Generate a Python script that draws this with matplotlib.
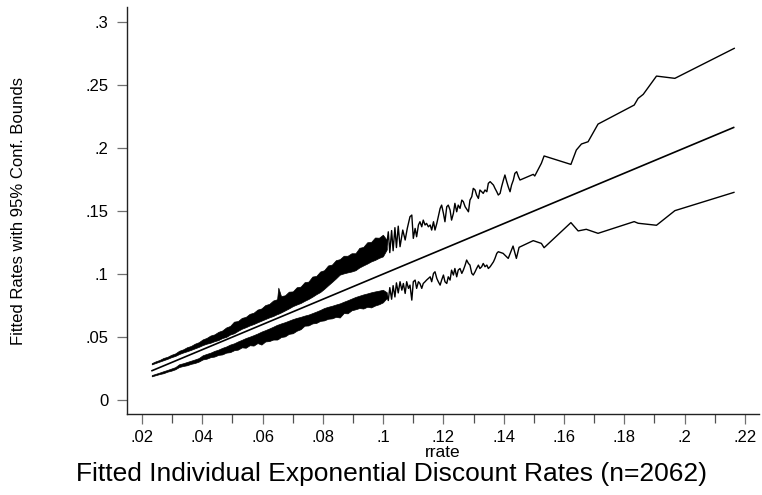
import numpy as np
import matplotlib.pyplot as plt

plt.rcParams['font.family'] = ['Liberation Sans', 'DejaVu Sans']

# fitted line (fitted rate = rrate)
mid_x = [0.0233, 0.2163]
mid_y = [0.0233, 0.2163]

# dense part of the bounds, read as upper / lower edge of the black band
band_x = [0.0232, 0.0245, 0.0258, 0.0271, 0.0284, 0.0297, 0.0310, 0.0323, 0.0336, 0.0349,
          0.0362, 0.0375, 0.0388, 0.0401, 0.0414, 0.0427, 0.0440, 0.0453, 0.0466, 0.0479,
          0.0492, 0.0505, 0.0518, 0.0531, 0.0544, 0.0557, 0.0570, 0.0583, 0.0596, 0.0609,
          0.0622, 0.0635, 0.0648, 0.0652, 0.0661, 0.0674, 0.0687, 0.0700, 0.0713, 0.0726,
          0.0739, 0.0752, 0.0765, 0.0778, 0.0791, 0.0804, 0.0817, 0.0830, 0.0843, 0.0856,
          0.0869, 0.0882, 0.0895, 0.0908, 0.0921, 0.0934, 0.0947, 0.0960, 0.0973, 0.0986,
          0.0999, 0.1012]
hi_top = [0.0293, 0.0307, 0.0318, 0.0334, 0.0343, 0.0359, 0.0370, 0.0391, 0.0402, 0.0419,
          0.0429, 0.0447, 0.0459, 0.0481, 0.0493, 0.0512, 0.0521, 0.0541, 0.0552, 0.0576,
          0.0588, 0.0622, 0.0627, 0.0652, 0.0660, 0.0684, 0.0693, 0.0718, 0.0727, 0.0754,
          0.0763, 0.0790, 0.0800, 0.0892, 0.0825, 0.0831, 0.0860, 0.0862, 0.0895, 0.0900,
          0.0935, 0.0940, 0.0980, 0.0985, 0.1020, 0.1030, 0.1068, 0.1075, 0.1110, 0.1118,
          0.1145, 0.1145, 0.1165, 0.1165, 0.1208, 0.1215, 0.1252, 0.1255, 0.1290, 0.1288,
          0.1312, 0.1270]
hi_bot = [0.0283, 0.0294, 0.0305, 0.0316, 0.0327, 0.0340, 0.0350, 0.0365, 0.0377, 0.0387,
          0.0398, 0.0410, 0.0422, 0.0436, 0.0447, 0.0455, 0.0467, 0.0476, 0.0492, 0.0501,
          0.0520, 0.0530, 0.0549, 0.0566, 0.0578, 0.0592, 0.0603, 0.0617, 0.0630, 0.0643,
          0.0656, 0.0667, 0.0682, 0.0685, 0.0695, 0.0711, 0.0727, 0.0745, 0.0758, 0.0770,
          0.0787, 0.0802, 0.0820, 0.0840, 0.0857, 0.0882, 0.0910, 0.0937, 0.0965, 0.0995,
          0.1005, 0.1013, 0.1020, 0.1030, 0.1052, 0.1068, 0.1083, 0.1100, 0.1112, 0.1128,
          0.1140, 0.1195]
lo_top = [0.0198, 0.0208, 0.0218, 0.0229, 0.0239, 0.0250, 0.0261, 0.0284, 0.0292, 0.0302,
          0.0312, 0.0322, 0.0333, 0.0355, 0.0366, 0.0376, 0.0390, 0.0400, 0.0414, 0.0425,
          0.0440, 0.0450, 0.0465, 0.0478, 0.0492, 0.0503, 0.0515, 0.0528, 0.0543, 0.0555,
          0.0568, 0.0582, 0.0597, 0.0600, 0.0608, 0.0618, 0.0630, 0.0642, 0.0652, 0.0660,
          0.0670, 0.0678, 0.0690, 0.0702, 0.0715, 0.0730, 0.0740, 0.0748, 0.0758, 0.0767,
          0.0780, 0.0792, 0.0805, 0.0818, 0.0828, 0.0838, 0.0846, 0.0855, 0.0862, 0.0868,
          0.0875, 0.0855]
lo_bot = [0.0188, 0.0197, 0.0206, 0.0213, 0.0225, 0.0233, 0.0244, 0.0262, 0.0270, 0.0276,
          0.0287, 0.0294, 0.0305, 0.0322, 0.0328, 0.0340, 0.0345, 0.0358, 0.0362, 0.0376,
          0.0380, 0.0395, 0.0400, 0.0418, 0.0415, 0.0435, 0.0432, 0.0452, 0.0440, 0.0465,
          0.0468, 0.0480, 0.0480, 0.0485, 0.0500, 0.0505, 0.0525, 0.0530, 0.0550, 0.0562,
          0.0590, 0.0592, 0.0608, 0.0612, 0.0628, 0.0632, 0.0645, 0.0648, 0.0660, 0.0655,
          0.0690, 0.0688, 0.0712, 0.0720, 0.0730, 0.0726, 0.0740, 0.0735, 0.0750, 0.0760,
          0.0775, 0.0810]

# sparse part of the upper bound
up_x = [0.1012, 0.1017, 0.1022, 0.1028, 0.1033, 0.1039, 0.1044, 0.1050,
        0.1056, 0.1065, 0.1073, 0.1080, 0.1089, 0.1095, 0.1100, 0.1106, 0.1111, 0.1117,
        0.1122, 0.1128, 0.1133, 0.1139, 0.1144, 0.1150, 0.1156, 0.1161, 0.1167, 0.1172,
        0.1178, 0.1189, 0.1194, 0.1200, 0.1205, 0.1211, 0.1216, 0.1222, 0.1227, 0.1233,
        0.1238, 0.1244, 0.1249, 0.1255, 0.1261, 0.1266, 0.1272, 0.1283, 0.1288, 0.1294,
        0.1299, 0.1305, 0.1310, 0.1316, 0.1321, 0.1327, 0.1332, 0.1338, 0.1344, 0.1349,
        0.1355, 0.1366, 0.1371, 0.1377, 0.1382, 0.1388, 0.1393, 0.1399, 0.1404, 0.1410,
        0.1415, 0.1421, 0.1426, 0.1432, 0.1437, 0.1443, 0.1449, 0.1454, 0.1498, 0.1503,
        0.1525, 0.1534, 0.1623, 0.1641, 0.1658, 0.1680, 0.1713, 0.1833, 0.1846, 0.1863,
        0.1907, 0.1968, 0.2165]
up_y = [0.1232, 0.1335, 0.1170, 0.1345, 0.1185, 0.1368, 0.1210, 0.1380,
        0.1217, 0.1349, 0.1270, 0.1362, 0.1455, 0.1468, 0.1283, 0.1362, 0.1296, 0.1389,
        0.1415, 0.1375, 0.1428, 0.1389, 0.1402, 0.1375, 0.1389, 0.1349, 0.1415, 0.1349,
        0.1402, 0.1521, 0.1547, 0.1481, 0.1415, 0.1534, 0.1547, 0.1508, 0.1428, 0.1481,
        0.1561, 0.1494, 0.1547, 0.1521, 0.1587, 0.1574, 0.1534, 0.1494, 0.1587, 0.1614,
        0.1680, 0.1667, 0.1627, 0.1600, 0.1667, 0.1653, 0.1640, 0.1667, 0.1653, 0.1720,
        0.1733, 0.1706, 0.1680, 0.1653, 0.1627, 0.1640, 0.1693, 0.1746, 0.1786, 0.1733,
        0.1693, 0.1653, 0.1706, 0.1746, 0.1799, 0.1812, 0.1772, 0.1746, 0.1791, 0.1778,
        0.1879, 0.1937, 0.1870, 0.1984, 0.2032, 0.2050, 0.2190, 0.2341, 0.2394, 0.2426,
        0.2571, 0.2553, 0.2791]

# sparse part of the lower bound
dn_x = [0.1012, 0.1017, 0.1022, 0.1028, 0.1033, 0.1039, 0.1044, 0.1050,
        0.1056, 0.1062, 0.1067, 0.1073, 0.1078, 0.1084, 0.1089, 0.1095, 0.1100, 0.1106,
        0.1111, 0.1117, 0.1122, 0.1128, 0.1133, 0.1139, 0.1144, 0.1150, 0.1156, 0.1161,
        0.1167, 0.1172, 0.1178, 0.1183, 0.1189, 0.1194, 0.1200, 0.1205, 0.1211, 0.1216,
        0.1222, 0.1227, 0.1233, 0.1238, 0.1244, 0.1249, 0.1255, 0.1261, 0.1266, 0.1272,
        0.1277, 0.1283, 0.1288, 0.1294, 0.1299, 0.1305, 0.1310, 0.1316, 0.1321, 0.1327,
        0.1332, 0.1338, 0.1344, 0.1349, 0.1355, 0.1366, 0.1371, 0.1377, 0.1382, 0.1398,
        0.1415, 0.1431, 0.1442, 0.1451, 0.1498, 0.1525, 0.1534, 0.1623, 0.1647, 0.1674,
        0.1713, 0.1833, 0.1846, 0.1907, 0.1968, 0.2164]
dn_y = [0.0832, 0.0790, 0.0892, 0.0800, 0.0908, 0.0818, 0.0930, 0.0850,
        0.0939, 0.0872, 0.0925, 0.0846, 0.0939, 0.0886, 0.0912, 0.0793, 0.0939, 0.0952,
        0.0886, 0.0939, 0.0925, 0.0886, 0.0925, 0.0939, 0.0952, 0.0965, 0.0978, 0.0939,
        0.1005, 0.1018, 0.0965, 0.0939, 0.0912, 0.0952, 0.0992, 0.0939, 0.0925, 0.0978,
        0.0952, 0.1031, 0.0992, 0.1044, 0.0978, 0.1031, 0.1044, 0.1005, 0.1031, 0.1071,
        0.1111, 0.1084, 0.1071, 0.1005, 0.0992, 0.1018, 0.1044, 0.1071, 0.1044, 0.1058,
        0.1084, 0.1058, 0.1071, 0.1044, 0.1058, 0.1097, 0.1124, 0.1164, 0.1177, 0.1164,
        0.1124, 0.1222, 0.1124, 0.1212, 0.1265, 0.1243, 0.1209, 0.1408, 0.1342, 0.1355,
        0.1323, 0.1416, 0.1403, 0.1387, 0.1503, 0.1648]

xticks = [0.02, 0.04, 0.06, 0.08, 0.10, 0.12, 0.14, 0.16, 0.18, 0.20, 0.22]
xticklabels = ['.02', '.04', '.06', '.08', '.1', '.12', '.14', '.16', '.18', '.2', '.22']
xminor = [0.03, 0.05, 0.07, 0.09, 0.11, 0.13, 0.15, 0.17, 0.19, 0.21]
yticks = [0, 0.05, 0.10, 0.15, 0.20, 0.25, 0.30]
yticklabels = ['0', '.05', '.1', '.15', '.2', '.25', '.3']

fig = plt.figure(figsize=(7.62, 4.95), dpi=100)
ax = fig.add_axes([0.1667, 0.1636, 0.8293, 0.8222])

ax.fill_between(band_x, hi_bot, hi_top, color='black', lw=0.5)
ax.fill_between(band_x, lo_bot, lo_top, color='black', lw=0.5)
ax.plot(up_x, up_y, color='black', lw=1.0)
ax.plot(dn_x, dn_y, color='black', lw=1.0)
ax.plot(mid_x, mid_y, color='black', lw=1.2)

ax.set_xlim(0.015, 0.2247)
ax.set_ylim(-0.0111, 0.3119)
for s in ['top', 'right']:
    ax.spines[s].set_visible(False)
for s in ['left', 'bottom']:
    ax.spines[s].set_linewidth(1.0)
    ax.spines[s].set_color('#222222')

ax.set_xticks(xticks)
ax.set_xticklabels(xticklabels)
ax.set_xticks(xminor, minor=True)
ax.set_yticks(yticks)
ax.set_yticklabels(yticklabels)
ax.tick_params(axis='both', which='major', length=7.2, width=0.9, color='#707070',
               labelsize=12, labelcolor='black')
ax.tick_params(axis='x', which='major', pad=4)
ax.tick_params(axis='y', which='major', pad=6)
ax.tick_params(axis='x', which='minor', length=6.5, width=0.9, color='#505050')

ax.set_xlabel('rrate', fontsize=12.5, labelpad=0)
fig.text(0.024, 0.574, 'Fitted Rates with 95% Conf. Bounds', rotation=90,
         fontsize=12, ha='center', va='center')
fig.text(0.514, 0.042, 'Fitted Individual Exponential Discount Rates (n=2062)',
         fontsize=19, ha='center', va='center')

fig.savefig('out.png', dpi=100)
